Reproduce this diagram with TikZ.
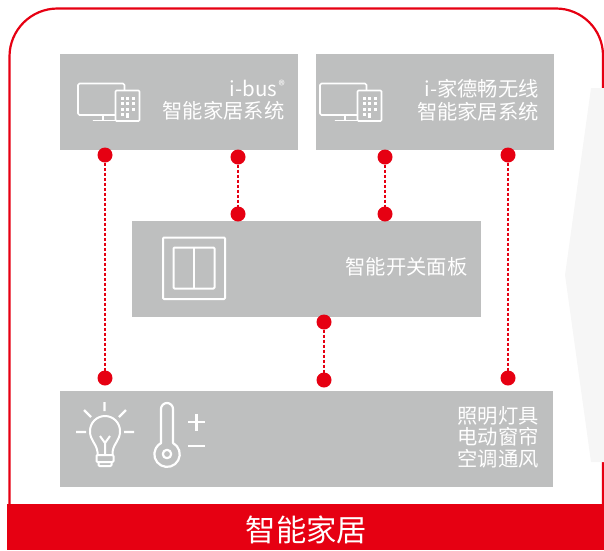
\documentclass[tikz,border=0pt]{standalone}
\usepackage{fontspec}
\setmainfont{Noto Sans CJK SC}
\definecolor{brandred}{HTML}{E60012}
\definecolor{panelgray}{HTML}{BEBFBF}
\definecolor{arrowgray}{HTML}{F6F6F6}
\tikzset{
  x=1pt,y=-1pt,
  panel/.style={fill=panelgray,draw=none,minimum width=#1,minimum height=96pt,inner sep=0pt,outer sep=0pt,anchor=north west},
  junction/.style={circle,fill=brandred,draw=none,minimum size=15pt,inner sep=0pt,outer sep=0pt},
  link/.style={draw=brandred,line width=2.5pt,dash pattern=on 3.9pt off 1.1pt},
  label/.style={text=white,font=\fontsize{20.3}{23}\selectfont,align=right,anchor=east,inner sep=0pt},
  icon/.style={draw=white,line width=1.7pt,fill=none,line join=round,line cap=round},
  glass/.style={fill=white,draw=none}
}
\newcommand{\screenicon}[1]{%
  \begin{scope}[xshift=#1]
    \draw[icon,rounded corners=1.5pt] (115,115) -- (78,115) -- (78,83.5) -- (124.5,83.5) -- (124.5,90);
    \draw[icon] (103,115) -- (103,120) (93.5,120.5) -- (115,120.5);
    \draw[icon,rounded corners=1pt] (115.5,90.5) rectangle (139.5,121);
    \foreach \cx in {120.5,126,131.5}{\foreach \cy in {96.5,102,107.5}{\fill[glass] (\cx,\cy) rectangle +(3.4,3.4);}}
    \fill[glass] (120.5,113) rectangle +(3.4,3.4);
    \fill[glass] (126,113) rectangle +(3.4,4.6);
  \end{scope}}
\begin{document}
\begin{tikzpicture}
\useasboundingbox (0,0) rectangle (604,550);
% frame
\draw[brandred,line width=2.2pt] (9.5,505) -- (9.5,56.5) arc[start angle=180,end angle=270,radius=48] -- (556,8.5) arc[start angle=270,end angle=360,radius=47] -- (603,505);
\fill[arrowgray] (591,88) -- (604,88) -- (604,462) -- (591,462) -- (565,275) -- cycle;
\node[fill=brandred,minimum width=597pt,minimum height=46pt,inner sep=0pt,anchor=north west] (bar) at (7,504) {};
\node[text=white,font=\fontsize{30.3}{32}\selectfont,inner sep=0pt] (title) at (306.5,530) {智能家居};
% panels
\node[panel=238pt] (bus) at (60,54) {};
\node[panel=238pt] (wless) at (316,54) {};
\node[panel=349pt] (sw) at (132,221) {};
\node[panel=493pt] (dev) at (60,391) {};
\node[label,font=\fontsize{20.5}{23}\selectfont] (busname) at (277.5,88) {i-bus};
\node[text=white,font=\fontsize{13}{13}\selectfont,inner sep=0pt,anchor=west] (busreg) at (278.5,85.5) {®};
\node[label] (bussub) at (284.5,111) {智能家居系统};
\node[label] (wlname) at (539,100) {i-家德畅无线\\智能家居系统};
\node[label] (swname) at (467.5,267) {智能开关面板};
\node[label,font=\fontsize{20.3}{21.5}\selectfont] (devname) at (539,437) {照明灯具\\电动窗帘\\空调通风};
% icons
\screenicon{0pt}
\screenicon{242pt}
\draw[icon,line width=2pt,line cap=butt,rounded corners=1pt] (163,237.5) rectangle (225,299);
\draw[icon,line width=2pt,line cap=butt,rounded corners=1pt] (173.5,247.5) rectangle (214.5,288.5);
\draw[icon,line width=2pt,line cap=butt] (194,247.5) -- (194,288.5);
% bulb
\draw[icon,line width=2pt] (97.5,455) -- (97.5,452) .. controls (96,442) and (90,441) .. (90,431) arc[start angle=180,end angle=360,radius=15] .. controls (120,441) and (114,442) .. (112.5,452) -- (112.5,455);
\draw[icon,line width=2pt,rounded corners=1pt] (96.5,455) rectangle (113.5,462);
\draw[icon,line width=2pt,rounded corners=1pt] (98.5,462) -- (98.5,466) -- (111.5,466) -- (111.5,462);
\draw[icon,line width=2pt,line cap=butt] (105,455) -- (105,442) (100,436) -- (105,443) -- (110,436);
\draw[icon,line width=2.4pt,line cap=butt] (104.5,402) -- (104.5,411) (84,410) -- (91,417) (126,410) -- (119,417) (76,432) -- (86,432) (124,432) -- (134,432);
% thermometer
\draw[icon,line width=2.2pt] (161,443) -- (161,409) arc[start angle=180,end angle=360,radius=6] -- (173,443) arc[start angle=-62,end angle=242,radius=12.7] -- cycle;
\draw[icon,line width=2.2pt] (167,454) circle[radius=4.2];
\draw[icon,line width=2.4pt,line cap=butt] (188,422) -- (205,422) (196.5,413.5) -- (196.5,430.5) (188,446) -- (205,446);
% junctions
\node[junction] (a1) at (105,155) {};
\node[junction] (a2) at (105,378) {};
\node[junction] (b1) at (238,157) {};
\node[junction] (b2) at (238,214) {};
\node[junction] (c1) at (385,157) {};
\node[junction] (c2) at (385,214) {};
\node[junction] (d1) at (508,155) {};
\node[junction] (d2) at (508,378) {};
\node[junction] (e1) at (324,322) {};
\node[junction] (e2) at (324,380) {};
\foreach \p/\q in {a1/a2,b1/b2,c1/c2,d1/d2,e1/e2}{\draw[link] (\p) -- (\q);}
\end{tikzpicture}
\end{document}
